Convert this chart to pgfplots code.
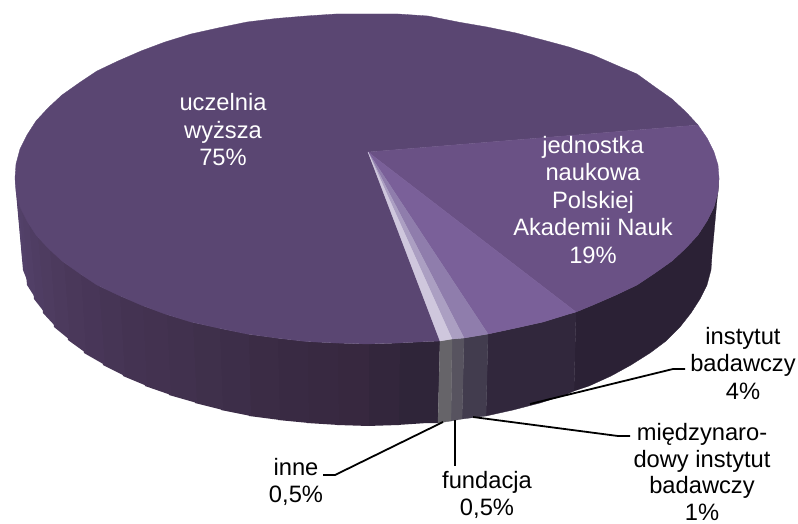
\documentclass[border=0pt]{standalone}
\usepackage{pgfplots}
\pgfplotsset{compat=1.18}
\usepackage{fontspec}
\setmainfont{Liberation Sans}
\definecolor{tA}{HTML}{5A4672}
\definecolor{tB}{HTML}{6A5185}
\definecolor{tC}{HTML}{7A6099}
\definecolor{tD}{HTML}{8F7DAC}
\definecolor{tE}{HTML}{AB9FC2}
\definecolor{tF}{HTML}{CFC7DD}
\definecolor{sB}{HTML}{2B2135}
\definecolor{sC}{HTML}{31273C}
\definecolor{sD}{HTML}{423C4E}
\definecolor{sE}{HTML}{57535F}
\definecolor{sF}{HTML}{666469}
\definecolor{a0}{HTML}{2F2539}
\definecolor{a1}{HTML}{33263C}
\definecolor{a2}{HTML}{37283F}
\definecolor{a3}{HTML}{382941}
\definecolor{a4}{HTML}{392A43}
\definecolor{a5}{HTML}{3B2C45}
\definecolor{a6}{HTML}{3D2E49}
\definecolor{a7}{HTML}{3F304B}
\definecolor{a8}{HTML}{41314E}
\definecolor{a9}{HTML}{433250}
\definecolor{a10}{HTML}{443352}
\definecolor{a11}{HTML}{463555}
\definecolor{a12}{HTML}{483658}
\definecolor{a13}{HTML}{4A385A}
\definecolor{a14}{HTML}{4C3A5D}
\definecolor{a15}{HTML}{4E3C60}
\definecolor{a16}{HTML}{4F3D63}
\definecolor{a17}{HTML}{513F66}
\definecolor{a18}{HTML}{524068}
\definecolor{a19}{HTML}{54426B}
\tikzset{lab/.style={align=center,font=\fontsize{23.7}{27.5}\selectfont,inner sep=0pt},
 ptxt/.style={lab,text=white}}
\pgfplotsset{
 face/.style={fill=#1,draw=#1,line width=0.3pt,line join=round,no markers,forget plot},
 band/.style={fill=#1,draw=none,no markers,forget plot},
 lead/.style={black,line width=1.8pt,no markers,forget plot,line join=round}}
\begin{document}
\begin{tikzpicture}
\begin{axis}[scale only axis,width=798pt,height=524pt,xmin=0,xmax=798,ymin=0,ymax=524,y dir=reverse,hide axis,clip=false]
% side faces, uczelnia wyzsza 75%, each band running 2 units under its right neighbour's edge
\addplot[band=a0] coordinates {(440,341)(428,341.5)(398,343)(397,425)(427,423)(438,423)} -- cycle;
\addplot[band=a1] coordinates {(400,343)(367,344)(367,426)(399,425)} -- cycle;
\addplot[band=a2] coordinates {(369,344)(336,343)(337,425)(369,426)} -- cycle;
\addplot[band=a3] coordinates {(338,343)(306,341.5)(307,423)(339,425)} -- cycle;
\addplot[band=a4] coordinates {(308,341.5)(276,338)(278,420)(309,423)} -- cycle;
\addplot[band=a5] coordinates {(278,338)(247,334)(249,416)(280,420)} -- cycle;
\addplot[band=a6] coordinates {(249,334)(218,328)(221,410)(251,416)} -- cycle;
\addplot[band=a7] coordinates {(220,328)(191,322)(195,403)(223,410)} -- cycle;
\addplot[band=a8] coordinates {(193,322)(165,314)(169,395)(197,403)} -- cycle;
\addplot[band=a9] coordinates {(167,314)(141,305)(145,386)(171,395)} -- cycle;
\addplot[band=a10] coordinates {(143,305)(118,295)(123,376)(147,386)} -- cycle;
\addplot[band=a11] coordinates {(120,295)(97,285)(103,365)(125,376)} -- cycle;
\addplot[band=a12] coordinates {(99,285)(79,273)(84,353)(105,365)} -- cycle;
\addplot[band=a13] coordinates {(81,273)(62,261)(68,340)(86,353)} -- cycle;
\addplot[band=a14] coordinates {(64,261)(48,248)(54,327)(70,340)} -- cycle;
\addplot[band=a15] coordinates {(50,248)(36,235)(43,313)(56,327)} -- cycle;
\addplot[band=a16] coordinates {(38,235)(27,221)(34,299)(45,313)} -- cycle;
\addplot[band=a17] coordinates {(29,221)(20,207)(27,285)(36,299)} -- cycle;
\addplot[band=a18] coordinates {(22,207)(16,192)(23,270)(29,285)} -- cycle;
\addplot[band=a19] coordinates {(18,192)(15,178)(22,255)(25,270)} -- cycle;
% side faces, other slices
\addplot[face=sB] coordinates {(576,312)(593,305)(616,295)(637,285)(655,273)(672,261)(686,248)(698,235)(707,221)(714,207)(718,192)(719,178)(712,255)(711,270)(707,285)(700,299)(691,313)(680,327)(666,341)(650,353)(631,365)(611,376)(589,386)(574,391)} -- cycle;
\addplot[face=sC] coordinates {(576,312)(569,314)(543,322)(516,328)(488,334)(486,416)(513,410)(540,403)(565,395)(574,391)} -- cycle;
\addplot[face=sD] coordinates {(488,334)(464,338)(462,419)(486,416)} -- cycle;
\addplot[face=sE] coordinates {(464,338)(452,339)(451,421)(462,419)} -- cycle;
\addplot[face=sF] coordinates {(452,339)(440,341)(438,423)(451,421)} -- cycle;
% top faces
\addplot[face=tA] coordinates {(368,152)(440,341)(428,341.5)(398,343)(367,344)(336,343)(306,341.5)(276,338)(247,334)(218,328)(191,322)(165,314)(141,305)(118,295)(97,285)(79,273)(62,261)(48,248)(36,235)(27,221)(20,207)(16,192)(15,178)(16,164)(20,149)(27,135)(36,121)(48,108)(62,95)(79,83)(97,71)(118,61)(141,51)(165,42)(191,34)(218,28)(247,22)(276,18.5)(306,16)(336,14)(367,14)(398,14)(428,16)(458,22)(487,27)(516,33)(543,40)(569,47)(593,55)(616,65)(637,74)(655,87)(672,99)(686,112)(698,125)} -- cycle;
\addplot[face=tB] coordinates {(368,152)(698,125)(707,138)(714,152)(718,165)(719,178)(718,192)(714,207)(707,221)(698,235)(686,248)(672,261)(655,273)(637,285)(616,295)(593,305)(576,312)} -- cycle;
\addplot[face=tC] coordinates {(368,152)(576,312)(569,314)(543,322)(516,328)(488,334)} -- cycle;
\addplot[face=tD] coordinates {(368,152)(488,334)(464,338)} -- cycle;
\addplot[face=tE] coordinates {(368,152)(464,338)(452,339)} -- cycle;
\addplot[face=tF] coordinates {(368,152)(452,339)(440,341)} -- cycle;
% leader lines
\addplot[lead] coordinates {(530,404)(673,369)(685,369)};
\addplot[lead] coordinates {(473,417)(618,436)(630,436)};
\addplot[lead] coordinates {(455,420)(455,466)};
\addplot[lead] coordinates {(443,422)(335,475)(323,475)};
% labels
\node[ptxt] at (axis cs:223,130) {uczelnia\\wyższa\\75\%};
\node[ptxt] at (axis cs:593,200) {jednostka\\naukowa\\Polskiej\\Akademii Nauk\\19\%};
\node[lab] at (axis cs:743,363) {instytut\\badawczy\\4\%};
\node[lab,font=\fontsize{23.7}{26.8}\selectfont] at (axis cs:702,472) {międzynaro-\\dowy instytut\\badawczy\\1\%};
\node[lab] at (axis cs:487,495) {fundacja\\0,5\%};
\node[lab] at (axis cs:296,482) {inne\\0,5\%};
\end{axis}
\pgfresetboundingbox
\path (0,0) rectangle (798pt,524pt);
\end{tikzpicture}
\end{document}
